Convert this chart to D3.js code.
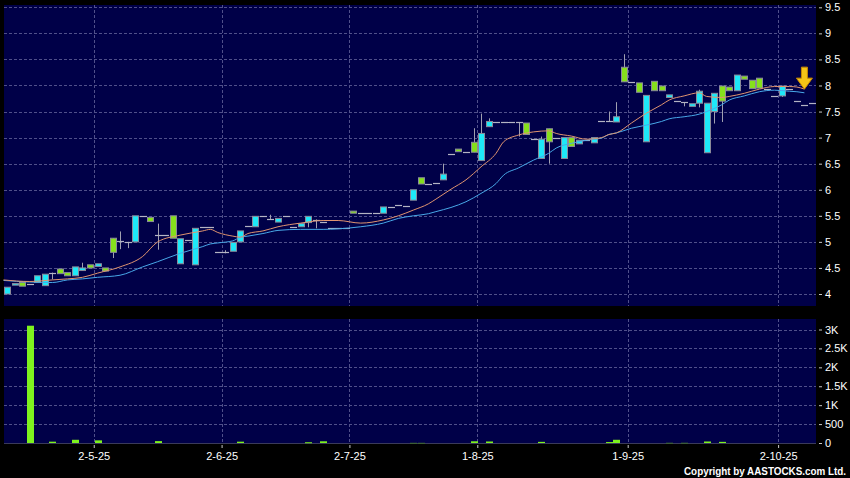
<!DOCTYPE html>
<html><head><meta charset="utf-8">
<script src="https://cdn.jsdelivr.net/npm/d3@7"></script>
<style>body{margin:0;background:#000;}svg{display:block}</style>
</head><body>
<svg id="c" width="850" height="478"></svg>
<script>
// ---- data ----
const opens  = [4.00,4.17,4.22,4.19,4.22,4.16,4.41,4.48,4.41,4.35,4.45,4.56,4.53,4.50,5.07,5.02,5.00,5.00,5.49,5.47,
                5.13,5.13,5.50,4.58,5.04,4.56,5.28,5.29,4.81,4.81,4.82,5.00,5.30,5.29,5.49,5.44,5.38,5.49,5.29,5.29,
                5.37,5.42,5.39,5.26,5.26,5.26,5.59,5.55,5.55,5.55,5.55,5.67,5.71,5.68,5.80,6.23,6.11,6.13,6.19,6.69,
                6.78,6.73,6.91,6.56,7.21,7.30,7.30,7.30,7.30,7.28,6.97,6.60,7.17,6.99,6.60,7.00,6.88,6.96,6.90,7.31,
                7.31,7.30,8.35,8.07,8.05,6.92,8.08,7.99,7.77,7.70,7.68,7.60,7.66,6.71,7.50,7.99,7.97,7.90,8.18,8.10,
                8.14,7.94,7.80,7.80,7.93,7.70,7.62,7.66];
const highs  = [4.13,4.20,4.22,4.19,4.35,4.38,4.41,4.48,4.41,4.52,4.60,4.56,4.58,4.50,5.07,5.20,5.00,5.50,5.49,5.47,
                5.35,5.13,5.50,5.06,5.04,5.26,5.28,5.29,4.81,4.84,4.99,5.21,5.30,5.49,5.49,5.52,5.45,5.49,5.29,5.35,
                5.49,5.43,5.39,5.26,5.26,5.26,5.59,5.55,5.55,5.55,5.67,5.67,5.71,5.68,6.00,6.23,6.11,6.13,6.50,6.69,
                6.78,6.73,7.18,7.46,7.37,7.30,7.30,7.30,7.30,7.28,6.97,7.02,7.17,6.99,7.00,7.00,6.95,6.96,7.00,7.31,
                7.50,7.68,8.60,8.07,8.05,7.81,8.08,7.99,7.82,7.70,7.68,7.65,7.92,7.66,7.85,7.99,7.97,8.20,8.18,8.10,
                8.14,7.94,7.80,7.99,7.93,7.70,7.62,7.66];
const lows   = [4.00,4.17,4.15,4.19,4.22,4.16,4.28,4.39,4.35,4.35,4.45,4.50,4.53,4.44,4.69,4.86,4.88,5.00,5.49,5.39,
                4.85,5.13,5.07,4.58,5.04,4.56,5.28,5.29,4.81,4.78,4.82,5.00,5.30,5.29,5.49,5.44,5.38,5.49,5.29,5.29,
                5.28,5.26,5.39,5.26,5.26,5.26,5.55,5.55,5.55,5.55,5.55,5.67,5.71,5.68,5.80,6.11,6.11,6.13,6.19,6.69,
                6.73,6.73,6.72,6.56,7.21,7.30,7.30,7.30,7.02,7.06,6.97,6.60,6.50,6.99,6.60,6.83,6.88,6.96,6.90,7.31,
                7.31,7.30,8.07,8.07,7.87,6.92,7.90,7.90,7.77,7.70,7.60,7.60,7.58,6.71,7.27,7.30,7.90,7.90,8.12,7.94,
                7.95,7.94,7.80,7.78,7.93,7.70,7.62,7.66];
const closes = [4.13,4.20,4.15,4.19,4.35,4.38,4.41,4.39,4.35,4.52,4.50,4.50,4.58,4.44,4.80,5.02,5.00,5.50,5.49,5.39,
                5.13,5.13,5.07,5.06,5.04,5.26,5.28,5.29,4.81,4.81,4.99,5.21,5.30,5.49,5.49,5.44,5.45,5.49,5.29,5.35,
                5.49,5.42,5.39,5.26,5.26,5.26,5.55,5.55,5.55,5.55,5.67,5.67,5.71,5.68,6.00,6.11,6.11,6.13,6.30,6.69,
                6.73,6.73,6.72,7.08,7.31,7.30,7.30,7.30,7.30,7.06,6.97,6.97,6.92,6.99,7.00,6.83,6.95,6.96,7.00,7.31,
                7.31,7.40,8.07,8.07,7.87,7.81,7.90,7.90,7.82,7.70,7.68,7.65,7.89,7.66,7.85,7.70,7.90,8.20,8.12,7.94,
                7.95,7.94,7.80,7.99,7.93,7.70,7.62,7.66];
const volumes = [0,0,0,3100,0,0,35,0,0,85,0,0,70,0,0,0,0,0,0,0,
                 50,0,0,0,0,0,0,0,0,0,0,35,0,0,0,0,0,0,0,0,
                 20,0,45,0,0,0,0,0,0,0,0,0,0,0,6,6,0,0,0,0,
                 0,0,45,0,40,0,0,0,0,0,0,30,0,0,0,0,0,0,0,0,
                 25,85,0,0,0,0,0,0,8,0,8,0,0,40,0,30,0,0,0,0,
                 0,0,0,0,0,0,0,0];
// moving averages read at sample days
const maDays = [-0.5,3,6,8,10,12,15,18,20,23,26,27,28,30,31,32,34,36,39,42,44,47,50,52,54,56,57,59,61,63,65,66,68,70,72,73,75,77,79,80,81,83,85,87,88,90,92,93,95,96,98,100,102,104,105,106];
const ma10 = [4.27,4.24,4.27,4.29,4.32,4.40,4.52,4.72,5.00,5.13,5.21,5.24,5.18,5.11,5.09,5.16,5.21,5.29,5.36,5.41,5.41,5.36,5.42,5.50,5.61,5.73,5.82,6.01,6.19,6.44,6.70,6.92,7.05,7.11,7.13,7.08,7.03,6.97,7.00,7.06,7.09,7.28,7.47,7.63,7.72,7.80,7.86,7.79,7.77,7.79,7.85,7.93,7.98,7.98,7.97,7.93];
const ma20 = [4.26,4.23,4.22,4.27,4.29,4.32,4.36,4.52,4.62,4.78,4.91,4.96,4.98,5.02,5.09,5.11,5.16,5.22,5.24,5.24,5.25,5.29,5.36,5.45,5.50,5.54,5.58,5.66,5.77,5.93,6.12,6.28,6.42,6.57,6.70,6.80,6.89,6.95,6.99,7.06,7.09,7.18,7.24,7.31,7.36,7.40,7.45,7.50,7.63,7.72,7.80,7.88,7.91,7.89,7.88,7.86];
const priceTicks = [4,4.5,5,5.5,6,6.5,7,7.5,8,8.5,9,9.5];
const volTicks = [0,500,1000,1500,2000,2500,3000];
const dateTickDays = [12,29,46,63,83,103];
const dateTickLabels = ["2-5-25","2-6-25","2-7-25","1-8-25","1-9-25","2-10-25"];

// ---- drawing ----
const svg = d3.select("#c");
const W = 850, H = 478;
const P = {l:4, r:816, t:5, b:306};
const V = {t:319, b:444};
const n = opens.length;

svg.append("rect").attr("width",W).attr("height",H).attr("fill","#000");
svg.append("rect").attr("x",P.l).attr("y",P.t).attr("width",P.r-P.l).attr("height",P.b-P.t).attr("fill","#000048");
svg.append("rect").attr("x",P.l).attr("y",V.t).attr("width",P.r-P.l).attr("height",V.b-V.t).attr("fill","#000048");

const x = d3.scaleLinear().domain([0,n]).range([3.5,815.7]);
const y = d3.scaleLinear().domain([4,9.5]).range([294,7.3]);
const yv = d3.scaleLinear().domain([0,3000]).range([443,329.5]);
const cx = i => x(i+0.5);

const gridCol = "#50508a", dash = "3,2";
svg.append("g").selectAll("line").data(priceTicks).join("line")
  .attr("x1",P.l).attr("x2",P.r).attr("y1",d=>Math.round(y(d))+0.5).attr("y2",d=>Math.round(y(d))+0.5)
  .attr("stroke",gridCol).attr("stroke-dasharray",dash);
svg.append("g").selectAll("line").data(volTicks.filter(d=>d>0)).join("line")
  .attr("x1",P.l).attr("x2",P.r).attr("y1",d=>Math.round(yv(d))+0.5).attr("y2",d=>Math.round(yv(d))+0.5)
  .attr("stroke",gridCol).attr("stroke-dasharray",dash);
svg.append("g").selectAll("line").data(dateTickDays).join("line")
  .attr("x1",d=>Math.round(x(d))+0.5).attr("x2",d=>Math.round(x(d))+0.5).attr("y1",P.t).attr("y2",P.b)
  .attr("stroke",gridCol).attr("stroke-dasharray",dash);
svg.append("g").selectAll("line").data(dateTickDays).join("line")
  .attr("x1",d=>Math.round(x(d))+0.5).attr("x2",d=>Math.round(x(d))+0.5).attr("y1",V.t).attr("y2",V.b)
  .attr("stroke",gridCol).attr("stroke-dasharray",dash);

// candles
const days = d3.range(n);
const CY = "#1ee8f8", GR = "#86e01c", DJ = "#b4b4c4", WK = "#a0a0b0";
const gC = svg.append("g");
gC.selectAll("line.wick").data(days.filter(i=>highs[i]>Math.max(opens[i],closes[i])+0.001 || lows[i]<Math.min(opens[i],closes[i])-0.001)).join("line")
  .attr("class","wick")
  .attr("x1",i=>Math.round(cx(i))+0.5).attr("x2",i=>Math.round(cx(i))+0.5)
  .attr("y1",i=>y(highs[i])).attr("y2",i=>y(lows[i]))
  .attr("stroke",WK).attr("stroke-width",1);
gC.selectAll("rect.body").data(days.filter(i=>Math.abs(closes[i]-opens[i])>0.001)).join("rect")
  .attr("class","body")
  .attr("x",i=>Math.round(cx(i))-2.5).attr("width",6)
  .attr("y",i=>y(Math.max(opens[i],closes[i]))).attr("height",i=>Math.max(1,Math.abs(y(opens[i])-y(closes[i]))))
  .attr("fill",i=>closes[i]>opens[i]?CY:GR)
  .attr("stroke","#8a8a9a").attr("stroke-width",1);
gC.selectAll("line.doji").data(days.filter(i=>Math.abs(closes[i]-opens[i])<=0.001)).join("line")
  .attr("class","doji")
  .attr("x1",i=>Math.round(cx(i))-3).attr("x2",i=>Math.round(cx(i))+4)
  .attr("y1",i=>Math.round(y(closes[i]))+0.5).attr("y2",i=>Math.round(y(closes[i]))+0.5)
  .attr("stroke",DJ).attr("stroke-width",1.2);

// moving averages
const line = arr => d3.line().x((d,k)=>cx(maDays[k])).y(d=>y(d)).curve(d3.curveMonotoneX)(arr);
svg.append("path").attr("d",line(ma20)).attr("fill","none").attr("stroke","#48a8e8").attr("stroke-width",1);
svg.append("path").attr("d",line(ma10)).attr("fill","none").attr("stroke","#e09470").attr("stroke-width",1);

// arrow marker at last MA
const ax = cx(maDays[maDays.length-1]), ay = y(ma10[ma10.length-1]);
svg.append("path")
  .attr("d",`M${ax-3},${ay-22} L${ax+3},${ay-22} L${ax+3},${ay-11} L${ax+8},${ay-11} L${ax},${ay} L${ax-8},${ay-11} L${ax-3},${ay-11} Z`)
  .attr("fill","#f5c516").attr("stroke","#c88a00").attr("stroke-width",1);

// volume
svg.append("line").attr("x1",P.l).attr("x2",P.r).attr("y1",443.5).attr("y2",443.5).attr("stroke","#3a3a5a");
svg.append("g").selectAll("rect").data(days.filter(i=>volumes[i]>0)).join("rect")
  .attr("x",i=>Math.round(cx(i))-3).attr("width",7)
  .attr("y",i=>yv(volumes[i])).attr("height",i=>Math.max(1,yv(0)-yv(volumes[i])))
  .attr("fill",i=>volumes[i]<10?"#3d6a2a":"#7ef21e");

// axes
const fmtV = d => d>=1000 ? (d/1000)+"K" : String(d);
const ay1 = svg.append("g").attr("transform","translate(819,0)")
  .call(d3.axisRight(y).tickValues(priceTicks).tickSize(3).tickPadding(3).tickFormat(d=>String(d)));
const ay2 = svg.append("g").attr("transform","translate(819,0)")
  .call(d3.axisRight(yv).tickValues(volTicks).tickSize(3).tickPadding(3).tickFormat(fmtV));
const ax1 = svg.append("g").attr("transform","translate(0,445)")
  .call(d3.axisBottom(x).tickValues(dateTickDays).tickSize(3).tickPadding(4).tickFormat((d,k)=>dateTickLabels[k]));
[ay1,ay2,ax1].forEach(g=>{
  g.select(".domain").remove();
  g.selectAll(".tick line").attr("stroke","#c8c8c8");
  g.selectAll(".tick text").attr("fill","#ffffff").attr("font-family","'Liberation Sans', Arial, sans-serif").attr("font-size",11);
});

svg.append("text").attr("x",846).attr("y",475).attr("text-anchor","end")
  .attr("fill","#fff").attr("font-family","'Liberation Sans', Arial, sans-serif").attr("font-weight","bold").attr("font-size",10)
  .attr("textLength",162).attr("lengthAdjust","spacingAndGlyphs")
  .text("Copyright by AASTOCKS.com Ltd.");
</script>
</body></html>
